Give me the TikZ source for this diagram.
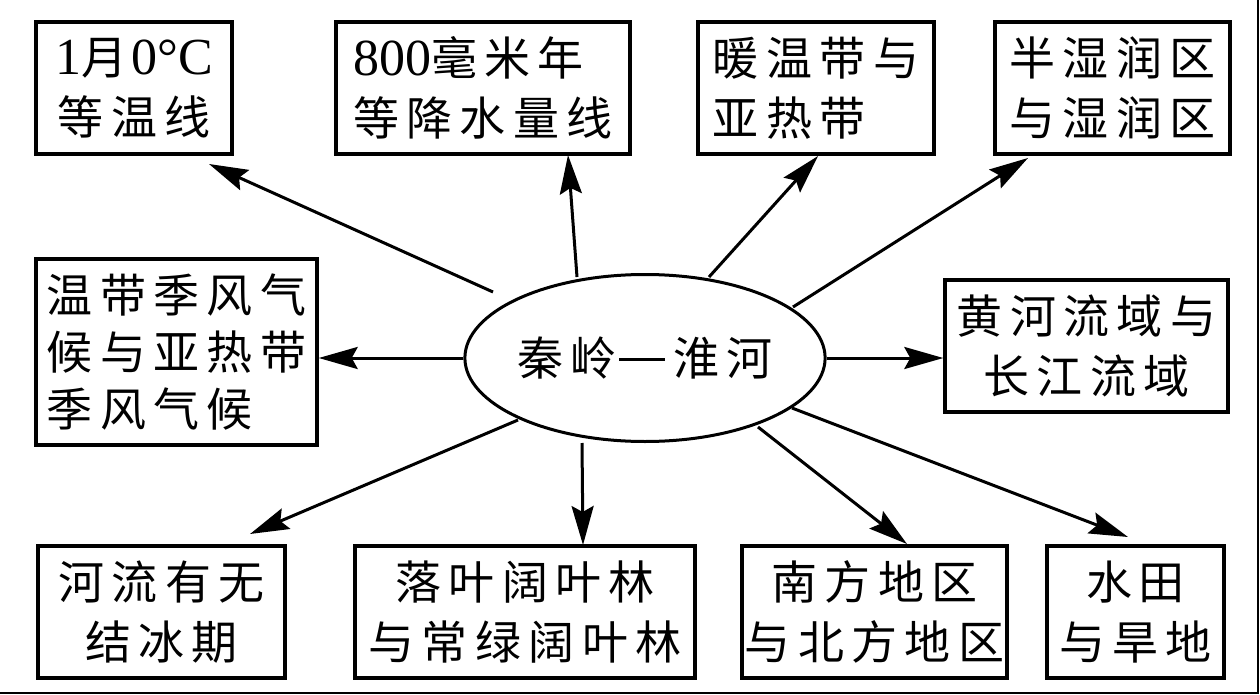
\documentclass[tikz,border=0pt]{standalone}
\usepackage{fontspec}
\newfontfamily\cjk[LetterSpace=16]{Noto Sans CJK SC}
\newfontfamily\lat{Liberation Serif}
\usetikzlibrary{arrows.meta,shapes.geometric}
\newcommand{\dg}[1]{{\lat\fontsize{52}{60}\selectfont #1}}
\newcommand{\longdash}{\hspace{2pt}\rule[15pt]{46pt}{2.2pt}\hspace{8pt}}
\begin{document}
\begin{tikzpicture}[x=1pt,y=-1pt,
  box/.style={draw,line width=3.4pt,inner sep=0pt,align=center,
    font=\cjk\fontsize{46}{60}\selectfont},
  arr/.style={line width=3pt,-{Stealth[length=39pt,width=22pt,inset=6pt]}}]
\useasboundingbox (0,0) rectangle (1260,695);
\fill[white] (0,0) rectangle (1260,695);
% frame edges
\draw[line width=1.5pt] (0,693) coordinate (f1) -- (1258,693) coordinate (f2) -- (1258,0) coordinate (f3);
% boxes
\node[box,minimum width=196pt,minimum height=132pt] (A) at (134,88) {\dg{1}月\hspace{4pt}\dg{0°C}\\等温线};
\node[box,minimum width=294pt,minimum height=132pt,align=left] (B) at (483,88) {\dg{800}毫米年\\等降水量线};
\node[box,minimum width=236pt,minimum height=132pt,align=left] (C) at (816,88) {暖温带与\\亚热带};
\node[box,minimum width=235pt,minimum height=132pt] (D) at (1112.5,88) {半湿润区\\与湿润区};
\node[box,minimum width=281pt,minimum height=186pt,align=left,
  font=\cjk\fontsize{46}{57}\selectfont] (E) at (176.5,352) {温带季风气\\候与亚热带\\季风气候};
\node[box,minimum width=283pt,minimum height=132pt] (F) at (1086.5,346) {黄河流域与\\长江流域};
\node[draw,ellipse,line width=3pt,inner sep=0pt,minimum width=354pt,minimum height=167pt,
  font=\cjk\fontsize{46}{60}\selectfont] (e) at (645,358) {秦岭\longdash 淮河};
\node[box,minimum width=247pt,minimum height=132pt] (G) at (161.5,612) {河流有无\\结冰期};
\node[box,minimum width=340pt,minimum height=132pt] (H) at (525,612) {落叶阔叶林\\与常绿阔叶林};
\node[box,minimum width=265pt,minimum height=132pt] (I) at (874.5,612) {南方地区\\与北方地区};
\node[box,minimum width=177pt,minimum height=132pt] (J) at (1135.5,612) {水\hspace{6pt}田\\与旱地};
% arrow ends
\coordinate (tA) at (493,292); \coordinate (hA) at (209,164);
\coordinate (tB) at (577,277); \coordinate (hB) at (568,155);
\coordinate (tC) at (709,277); \coordinate (hC) at (818,156);
\coordinate (tD) at (793,307); \coordinate (hD) at (1028,158);
\coordinate (tG) at (518,420); \coordinate (hG) at (250,534);
\coordinate (tH) at (582,443); \coordinate (hH) at (583,545);
\coordinate (tI) at (758,427); \coordinate (hI) at (907,544);
\coordinate (tJ) at (792,408); \coordinate (hJ) at (1128,537);
\draw[arr] (tA) -- (hA);
\draw[arr] (tB) -- (hB);
\draw[arr] (tC) -- (hC);
\draw[arr] (tD) -- (hD);
\draw[arr] (e.west) -- (e.west -| E.east);
\draw[arr] (e.east) -- (e.east -| F.west);
\draw[arr] (tG) -- (hG);
\draw[arr] (tH) -- (hH);
\draw[arr] (tI) -- (hI);
\draw[arr] (tJ) -- (hJ);
\end{tikzpicture}
\end{document}
